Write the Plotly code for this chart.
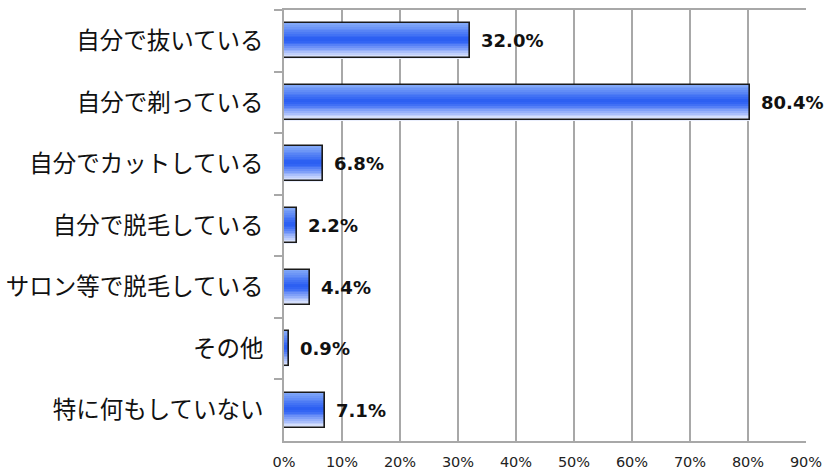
import plotly.graph_objects as go

categories = ["自分で抜いている", "自分で剃っている", "自分でカットしている", "自分で脱毛している",
              "サロン等で脱毛している", "その他", "特に何もしていない"]
values = [32.0, 80.4, 6.8, 2.2, 4.4, 0.9, 7.1]
x_tick_vals = [0, 10, 20, 30, 40, 50, 60, 70, 80, 90]
x_tick_text = ["0%", "10%", "20%", "30%", "40%", "50%", "60%", "70%", "80%", "90%"]

BAR_H = 0.57
N_STRIPS = 20
stops = [(0.0, (135, 172, 248)), (0.45, (40, 92, 242)), (0.55, (55, 104, 244)), (1.0, (244, 247, 255))]


def color_at(t):
    for (t0, c0), (t1, c1) in zip(stops[:-1], stops[1:]):
        if t0 <= t <= t1:
            f = (t - t0) / (t1 - t0) if t1 > t0 else 0
            return "rgb(%d,%d,%d)" % tuple(round(a + (b - a) * f) for a, b in zip(c0, c1))
    return "rgb(%d,%d,%d)" % stops[-1][1]


fig = go.Figure()
h = BAR_H / N_STRIPS
for i in range(N_STRIPS):
    t = (i + 0.5) / N_STRIPS
    fig.add_trace(go.Bar(
        x=values, y=categories, orientation="h",
        width=h * 1.35, offset=-BAR_H / 2 + i * h,
        marker=dict(color=color_at(t), line=dict(width=0)),
        hoverinfo="skip", showlegend=False,
    ))
fig.add_trace(go.Bar(
    x=values, y=categories, orientation="h",
    width=BAR_H, offset=-BAR_H / 2,
    marker=dict(color="rgba(0,0,0,0)", line=dict(color="#1a1a1a", width=1.6)),
    showlegend=False,
))

for c, v in zip(categories, values):
    fig.add_annotation(x=v, y=c, text="<b>%.1f%%</b>" % v, showarrow=False,
                       xanchor="left", xshift=9,
                       font=dict(family="DejaVu Sans", size=18, color="#111111"))

fig.update_layout(
    width=825, height=474,
    margin=dict(l=284, r=19, t=10, b=33, autoexpand=False),
    paper_bgcolor="white", plot_bgcolor="white",
    barmode="overlay", bargap=0,
    xaxis=dict(range=[0, 90], tickvals=x_tick_vals, ticktext=x_tick_text,
               automargin=False,
               showgrid=True, gridcolor="#a8a8a8", gridwidth=1.5,
               showline=True, linecolor="#a8a8a8", linewidth=1.5, mirror=True,
               zeroline=False, ticks="", ticklabelstandoff=7,
               tickfont=dict(family="DejaVu Sans", size=14.5, color="#222222")),
    yaxis=dict(autorange="reversed", type="category", tickson="boundaries",
               automargin=False,
               ticks="outside", ticklen=8, tickcolor="#a8a8a8", tickwidth=1.5,
               showline=True, linecolor="#a8a8a8", linewidth=1.5,
               showgrid=False, ticklabelstandoff=14,
               tickfont=dict(family="Noto Sans CJK JP", size=23.5, color="#111111")),
)

fig.write_html("out.html", config={"displayModeBar": False},
               post_script="document.body.style.margin='0';document.body.style.overflow='hidden';")
